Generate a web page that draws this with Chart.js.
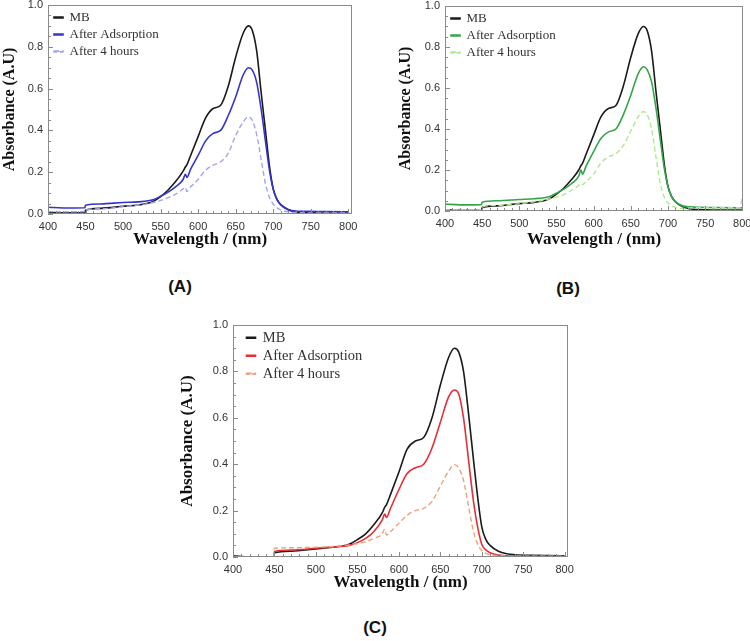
<!DOCTYPE html>
<html>
<head>
<meta charset="utf-8">
<script src="https://cdn.jsdelivr.net/npm/chart.js@4.4.1/dist/chart.umd.min.js"></script>
<style>
  body { margin: 0; background: #fff; overflow: hidden; }
  #wrap { position: relative; width: 750px; height: 641px; overflow: hidden; }
  canvas { position: absolute; }
  .cap { position: absolute; font: bold 17px "Liberation Sans", Arial, sans-serif; color: #111; transform: translate(-50%, -50%); }
</style>
</head>
<body>
<div id="wrap">
  <canvas id="chartA" width="362" height="256" style="left:0;top:-4px"></canvas>
  <canvas id="chartB" width="354" height="256" style="left:396px;top:-4px"></canvas>
  <canvas id="chartC" width="403" height="277" style="left:177px;top:318px"></canvas>
  <div class="cap" style="left:180px;top:287px">(A)</div>
  <div class="cap" style="left:568px;top:289px">(B)</div>
  <div class="cap" style="left:375px;top:628px">(C)</div>
</div>
<script>
// ===== Data =====
const wavelength = [400, 420, 449, 450, 470, 500, 520, 540, 550, 560, 570, 580, 583, 585, 590, 600, 610, 620, 630, 640,
  650, 660, 667, 672, 678, 684, 690, 695, 700, 705, 710, 720, 730, 740, 760, 797, 800];
const xTickValues = [400, 450, 500, 550, 600, 650, 700, 750, 800];
const yTickValues = [0, 0.2, 0.4, 0.6, 0.8, 1.0];
const seriesLabels = ['MB', 'After Adsorption', 'After 4 hours'];

// panel A
const mbA = [0.008, 0.006, 0.006, 0.018, 0.027, 0.037, 0.043, 0.06, 0.083, 0.115, 0.155, 0.205, 0.225, 0.235, 0.28, 0.37, 0.46, 0.505, 0.52, 0.61,
  0.75, 0.865, 0.90, 0.88, 0.78, 0.58, 0.39, 0.23, 0.12, 0.07, 0.045, 0.02, 0.01, 0.007, 0.005, 0.004, 0.004];
const adsA = [0.032, 0.029, 0.03, 0.042, 0.048, 0.055, 0.058, 0.068, 0.085, 0.105, 0.13, 0.165, 0.19, 0.175, 0.215, 0.28, 0.35, 0.386, 0.40, 0.47,
  0.56, 0.665, 0.70, 0.69, 0.63, 0.50, 0.34, 0.21, 0.12, 0.07, 0.045, 0.022, 0.014, 0.013, 0.012, 0.011, 0.01];
const hrsA = [0.012, 0.01, 0.012, 0.02, 0.025, 0.035, 0.043, 0.055, 0.065, 0.078, 0.095, 0.12, 0.128, 0.108, 0.13, 0.165, 0.21, 0.234, 0.25, 0.29,
  0.375, 0.44, 0.465, 0.45, 0.38, 0.26, 0.14, 0.08, 0.048, 0.03, 0.02, 0.01, 0.007, 0.006, 0.005, 0.005, 0.005];

// panel B
const mbB = [0.005, 0.004, 0.004, 0.016, 0.025, 0.036, 0.042, 0.058, 0.082, 0.112, 0.152, 0.2, 0.222, 0.232, 0.278, 0.37, 0.46, 0.50, 0.515, 0.61,
  0.75, 0.865, 0.90, 0.88, 0.78, 0.58, 0.39, 0.23, 0.12, 0.07, 0.045, 0.02, 0.01, 0.007, 0.005, 0.005, 0.005];
const adsB = [0.034, 0.03, 0.031, 0.043, 0.05, 0.056, 0.06, 0.07, 0.087, 0.107, 0.133, 0.17, 0.2, 0.18, 0.22, 0.29, 0.355, 0.386, 0.40, 0.47,
  0.565, 0.67, 0.704, 0.69, 0.63, 0.50, 0.34, 0.21, 0.12, 0.07, 0.045, 0.025, 0.02, 0.018, 0.017, 0.016, 0.016];
const hrsB = [0.006, 0.005, 0.006, 0.02, 0.027, 0.036, 0.045, 0.058, 0.068, 0.08, 0.1, 0.125, 0.135, 0.128, 0.145, 0.18, 0.235, 0.264, 0.28, 0.32,
  0.39, 0.46, 0.484, 0.47, 0.40, 0.26, 0.13, 0.07, 0.04, 0.025, 0.018, 0.012, 0.015, 0.016, 0.016, 0.016, 0.07];

// panel C
const mbC = [0.005, 0.0, 0.002, 0.018, 0.025, 0.035, 0.042, 0.055, 0.075, 0.1, 0.14, 0.19, 0.215, 0.225, 0.27, 0.365, 0.465, 0.50, 0.515, 0.6,
  0.74, 0.86, 0.90, 0.885, 0.80, 0.62, 0.42, 0.26, 0.13, 0.075, 0.05, 0.025, 0.014, 0.01, 0.007, 0.005, 0.005];
const adsC = [0.0, 0.0, 0.0, 0.024, 0.03, 0.038, 0.043, 0.05, 0.062, 0.08, 0.11, 0.16, 0.185, 0.17, 0.21, 0.29, 0.36, 0.385, 0.40, 0.47,
  0.58, 0.69, 0.72, 0.705, 0.60, 0.42, 0.24, 0.13, 0.055, 0.03, 0.018, 0.008, 0.005, 0.004, 0.003, 0.003, 0.003];
const hrsC = [0.0, 0.0, 0.0, 0.038, 0.04, 0.042, 0.045, 0.052, 0.057, 0.066, 0.08, 0.1, 0.12, 0.095, 0.11, 0.145, 0.18, 0.2, 0.21, 0.24,
  0.305, 0.37, 0.398, 0.385, 0.33, 0.22, 0.11, 0.055, 0.028, 0.016, 0.01, 0.006, 0.004, 0.003, 0.003, 0.003, 0.003];

// ===== Plugin: frame box + inward major/minor ticks =====
const frameTicks = {
  id: 'frameTicks',
  afterDraw(chart) {
    const { ctx, chartArea: a, scales: { x, y } } = chart;
    ctx.save();
    ctx.strokeStyle = '#8a8a8a';
    ctx.lineWidth = 1;
    ctx.strokeRect(Math.round(a.left) + 0.5, Math.round(a.top) + 0.5, Math.round(a.width) - 1, Math.round(a.height) - 1);
    ctx.beginPath();
    for (let v = 400; v <= 800; v += 10) {
      const px = Math.round(x.getPixelForValue(v)) + 0.5;
      const len = v % 50 === 0 ? 5 : 3;
      ctx.moveTo(px, a.bottom); ctx.lineTo(px, a.bottom - len);
    }
    for (let i = 0; i <= 20; i++) {
      const py = Math.round(y.getPixelForValue(i * 0.05)) + 0.5;
      const len = i % 4 === 0 ? 5 : 3;
      ctx.moveTo(a.left, py); ctx.lineTo(a.left + len, py);
    }
    ctx.stroke();
    ctx.restore();
  }
};

// legend sits inside the plot, nudged off the frame corner
const legendNudge = {
  id: 'legendNudge',
  afterLayout(chart, args, opts) {
    const lg = chart.legend;
    const a = chart.chartArea;
    lg.left = a.left + opts.dx;
    lg.top = a.top + opts.dy;
    lg.right = lg.left + lg.width;
    lg.bottom = lg.top + lg.height;
  }
};

function makeChart(id, values, colors, box) {
  const datasets = values.map((vals, i) => ({
    label: seriesLabels[i],
    data: wavelength.map((w, k) => ({ x: w, y: vals[k] })),
    borderColor: colors[i],
    backgroundColor: colors[i],
    borderWidth: i === 2 ? 1.4 : 1.6,
    borderDash: i === 2 ? [5, 3] : [],
    pointRadius: 0,
    cubicInterpolationMode: 'monotone'
  }));
  // draw MB on top
  datasets.reverse();

  return new Chart(document.getElementById(id), {
    type: 'line',
    data: { datasets },
    options: {
      responsive: false,
      animation: false,
      layout: { padding: { top: box.top, right: box.right, left: 0, bottom: 0 } },
      plugins: {
        legendNudge: { dx: box.ldx, dy: 2 },
        legend: {
          position: 'chartArea',
          align: 'start',
          reverse: true,
          labels: {
            boxWidth: 9,
            boxHeight: 1,
            padding: box.lpad,
            color: '#333',
            font: { family: '"Liberation Serif", "Times New Roman", serif', size: box.lfont }
          }
        },
        tooltip: { enabled: false }
      },
      scales: {
        x: {
          type: 'linear',
          min: 400,
          max: box.xmax,
          afterBuildTicks: s => { s.ticks = xTickValues.map(v => ({ value: v })); },
          afterFit: s => { s.height = box.xh; s.paddingLeft = 0; s.paddingRight = 0; },
          grid: { display: false, drawTicks: false },
          border: { display: false },
          ticks: {
            padding: 6,
            color: '#333',
            maxRotation: 0,
            font: { family: '"Liberation Sans", Arial, sans-serif', size: 11 }
          },
          title: {
            display: true,
            text: 'Wavelength / (nm)',
            color: '#111',
            padding: { top: 0, bottom: 2 },
            font: { family: '"Liberation Serif", "Times New Roman", serif', size: 17, weight: 'bold' }
          }
        },
        y: {
          min: 0,
          max: 1.0,
          afterBuildTicks: s => { s.ticks = yTickValues.map(v => ({ value: v })); },
          afterFit: s => { s.width = box.yw; s.paddingTop = 0; s.paddingBottom = 0; },
          grid: { display: false, drawTicks: false },
          border: { display: false },
          ticks: {
            padding: 5,
            color: '#333',
            callback: v => v.toFixed(1),
            font: { family: '"Liberation Sans", Arial, sans-serif', size: 11 }
          },
          title: {
            display: true,
            text: 'Absorbance (A.U)',
            color: '#111',
            padding: 0,
            font: { family: '"Liberation Serif", "Times New Roman", serif', size: box.yfont, weight: 'bold' }
          }
        }
      }
    },
    plugins: [frameTicks, legendNudge]
  });
}

makeChart('chartA', [mbA, adsA, hrsA], ['#1a1a1a', '#3434d0', '#a4a4ee'],
  { top: 9, right: 10, xmax: 805, xh: 38, yw: 48, ldx: 2, lfont: 13, lpad: 4, yfont: 16 });
makeChart('chartB', [mbB, adsB, hrsB], ['#1a1a1a', '#34a548', '#b0e890'],
  { top: 10, right: 7, xmax: 801, xh: 41, yw: 49, ldx: 2, lfont: 13, lpad: 4, yfont: 16 });
makeChart('chartC', [mbC, adsC, hrsC], ['#1a1a1a', '#e62e36', '#f2a078'],
  { top: 7, right: 12, xmax: 804, xh: 38, yw: 56, ldx: 10, lfont: 14.5, lpad: 3.5, yfont: 17 });
</script>
</body>
</html>
